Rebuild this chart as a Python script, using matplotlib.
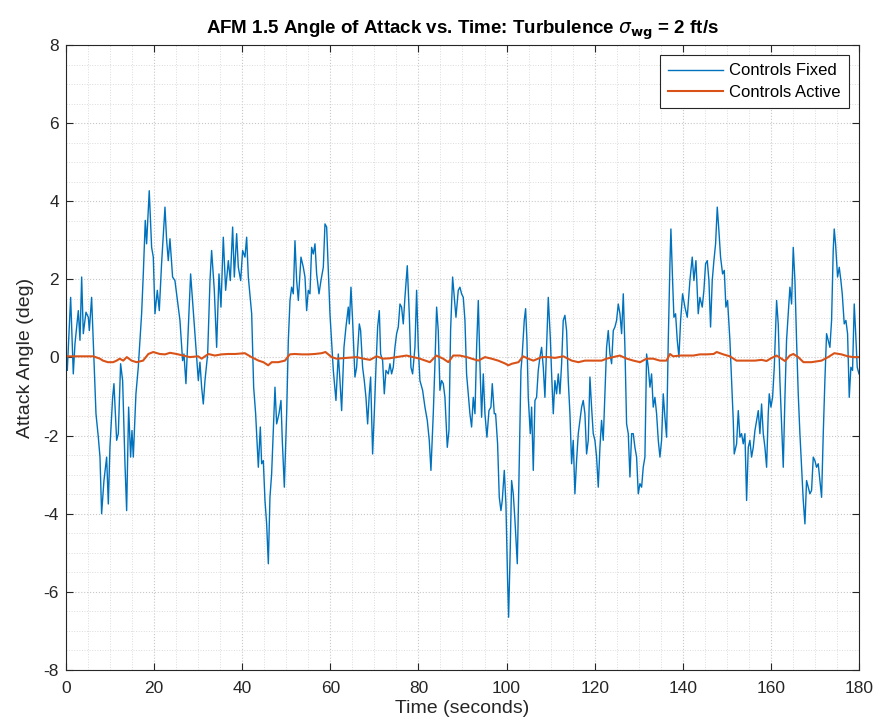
import numpy as np
import matplotlib.pyplot as plt
from matplotlib.ticker import MultipleLocator

# Controls Fixed (blue)
t_fixed = [0.0, 0.15, 0.3, 1.06, 1.66, 2.04, 2.8, 3.18, 3.56, 3.93, 4.54, 5.07, 5.3, 5.82,
           6.81, 7.34, 7.72, 8.09, 8.62, 9.23, 9.61, 9.98, 10.59, 10.89, 11.5, 11.88, 12.4,
           12.86, 13.39, 13.77, 14.22, 14.67, 14.98, 15.28, 15.88, 16.41, 16.79, 17.17, 17.55,
           18.0, 18.3, 18.9, 19.44, 19.82, 20.2, 20.73, 21.18, 21.7, 22.47, 22.85, 23.22, 23.6,
           24.2, 24.73, 25.87, 26.47, 26.78, 27.23, 28.29,
           30.04, 30.41, 30.79, 31.17, 31.55, 32.16, 32.69, 33.06, 33.67, 34.2, 34.73, 35.18,
           35.71, 36.24, 36.85, 37.3, 37.83, 38.21, 38.74, 39.12, 39.65, 40.1, 40.63, 41.01,
           41.39, 42.15, 42.6, 43.05, 43.66, 44.11, 44.41, 44.79, 45.17, 45.55, 45.93, 46.3,
           46.68, 47.44, 47.82, 48.35, 48.8, 49.1, 49.56, 50.09, 50.47, 50.85, 51.22, 51.6,
           51.98, 52.36, 52.74, 53.34, 53.87, 54.25, 54.63, 55.0, 55.38, 55.76, 56.14, 56.52,
           56.9, 57.43, 57.88, 58.41, 58.79, 59.17, 59.92,
           60.68, 61.28, 61.81, 62.19, 62.57, 63.1, 63.55, 64.08, 64.31, 64.69, 65.06, 65.59,
           65.97, 66.58, 66.88, 67.33, 67.71, 68.09, 68.47, 68.85, 69.15, 69.6, 69.98, 70.36,
           70.74, 71.12, 71.42, 71.87, 72.25, 72.63, 73.16, 73.54, 73.91, 74.29, 74.67, 75.05,
           75.43, 75.81, 76.18, 76.56, 76.94, 77.47, 77.92, 78.3, 78.68, 79.21, 79.59, 79.97,
           80.34, 80.95, 81.48, 82.01, 82.46, 82.84, 83.37, 83.75, 84.13, 84.5, 84.88, 85.26,
           85.64, 86.02, 86.55, 86.93, 87.3, 87.76, 88.14, 88.52, 89.04, 89.42, 89.8, 90.18,
           90.56, 90.93,
           91.69, 92.07, 92.45, 92.83, 93.21, 93.59, 93.96, 94.34, 94.72, 95.1, 95.55, 96.01,
           96.46, 96.76, 97.22, 97.52, 97.97, 98.35, 98.73, 99.03, 99.49, 99.86, 100.24, 100.47,
           100.85, 101.15, 101.53, 101.91, 102.44, 102.81, 103.27, 103.57, 104.02, 104.33,
           104.63, 104.93, 105.39, 105.69, 106.07, 106.45, 106.82, 107.2, 107.58, 107.96,
           108.34, 108.71, 109.09, 109.47, 109.93, 110.23, 110.61, 110.98, 111.36, 111.74,
           112.12, 112.5, 112.87, 113.25, 113.63, 114.01, 114.39, 114.77, 115.14, 115.52,
           115.9, 116.28, 116.66, 117.04, 117.41, 117.79, 118.17, 118.55, 118.93, 119.3,
           119.68, 120.06, 120.44, 120.82, 121.2, 121.57, 121.95,
           122.71, 123.09, 123.47, 123.85, 124.23, 124.6, 124.98, 125.36, 125.74, 126.12,
           126.5, 126.87, 127.25, 127.63, 128.01, 128.39, 128.76, 129.14, 129.52, 129.9,
           130.28, 130.66, 131.03, 131.41, 131.79, 132.17, 132.55, 132.92, 133.3, 133.68,
           134.06, 134.44, 134.82, 135.19, 135.57, 135.95, 136.33, 136.71, 137.09, 137.31,
           137.69, 137.99, 138.37, 138.75, 139.13, 139.51, 139.96, 140.49, 141.02, 141.62,
           142.15, 142.53, 142.99, 143.51, 143.89, 144.42, 144.8, 145.18, 145.56, 145.94,
           146.31, 146.69, 147.07, 147.45, 147.83, 148.2, 148.58, 149.04, 149.42, 149.79,
           150.17, 150.7, 151.08, 151.46, 151.68,
           152.22, 152.6, 152.97, 153.35, 153.73, 154.11, 154.49, 154.87, 155.24, 155.62,
           156.0, 156.38, 156.76, 157.14, 157.51, 157.89, 158.27, 158.65, 159.03, 159.4,
           159.63, 160.01, 160.39, 160.77, 161.07, 161.3, 161.67, 162.05, 162.43, 162.81,
           163.19, 163.56, 163.94, 164.32, 164.7, 165.08, 165.46, 165.83, 166.21, 166.59,
           166.97, 167.35, 167.73, 168.1, 168.48, 168.86, 169.24, 169.62, 169.99, 170.37,
           170.75, 171.13, 171.51, 171.89, 172.26, 172.64, 173.02, 173.4, 173.78, 174.15,
           174.38, 174.68, 175.14, 175.52, 175.89, 176.2, 176.65, 177.03, 177.41, 177.79,
           178.16, 178.54, 178.92, 179.22, 179.6, 180.0]
alpha_fixed = [0.0, 0.01, -0.33, 1.54, -0.42, 0.35, 1.2, 0.44, 2.06, 0.61, 1.16, 1.03, 0.69, 1.54,
               -1.44, -2.04, -2.55, -4.0, -3.15, -2.55, -3.75, -2.3, -1.02, -0.67, -2.12, -1.95,
               -0.16, -0.59, -2.72, -3.92, -1.27, -2.55, -1.87, -2.55, -0.93, -0.25, 0.44, 1.12,
               2.14, 3.51, 2.91, 4.27, 2.82, 2.57, 1.12, 1.72, 1.2, 2.4, 3.85, 3.0, 2.48, 3.04,
               2.06, 1.97, 0.95, -0.08, 0.09, -0.67, 2.14,
               -0.59, -0.12, -0.76, -1.19, -0.59, 0.09, 1.97, 2.74, 1.72, 0.26, 2.14, 1.29,
               3.08, 1.72, 2.48, 1.97, 3.34, 2.06, 3.17, 2.31, 1.97, 2.74, 2.57, 3.08,
               2.06, 1.12, -0.76, -1.44, -2.81, -1.78, -2.72, -2.64, -3.66, -4.26, -5.28, -3.58,
               -2.98, -0.76, -1.7, -1.44, -1.1, -2.12, -3.32, -1.44, 0.44, 1.46, 1.8, 1.63,
               2.99, 1.97, 1.46, 2.57, 2.31, 2.06, 1.2, 1.72, 1.63, 2.82, 2.65, 2.91,
               2.14, 1.63, 1.97, 2.31, 3.42, 3.34, 1.12,
               -0.33, -1.1, 0.09, -0.59, -1.36, 0.26, 0.78, 1.29, 0.86, 1.8, 0.95, -0.5,
               -0.25, 0.86, 0.69, -0.25, -0.59, -1.02, -1.7, -0.93, -0.5, -2.47, -1.44, -0.25,
               0.78, 1.2, 0.09, -0.08, -0.93, -0.33, -0.42, -0.16, -0.42, -0.25, 0.26, 0.61,
               0.78, 1.37, 1.29, 0.86, 1.54, 2.35, 1.12, -0.25, -0.42, 0.26, 1.72, 0.26,
               -0.59, -0.84, -1.27, -1.61, -2.12, -2.89, -1.44, -0.16, 1.29, 0.69, -0.84, -0.59,
               -0.67, -1.02, -2.3, -1.87, 0.69, 2.06, 1.54, 1.03, 1.72, 1.8, 1.63, 1.54,
               0.95, -0.42,
               -1.44, -1.78, -1.02, -1.44, 0.26, 1.46, -0.16, -1.53, -0.42, -1.44, -2.04, -1.36,
               -1.27, -0.67, -1.44, -1.44, -2.21, -3.58, -3.92, -3.66, -2.89, -3.75, -5.71, -6.65,
               -4.85, -3.15, -3.49, -4.17, -5.28, -3.15, -0.33, 0.09, 0.95, 1.25,
               0.44, -1.02, -1.95, -1.27, -2.89, -1.1, -1.02, -0.33, 0.01, 0.26, -0.25, -1.02,
               0.26, 1.54, 0.52, -0.42, -1.44, -0.59, -0.93, -0.42, -0.93, -0.16, 0.95, 1.08,
               0.69, -0.59, -1.44, -2.72, -2.12, -3.49, -2.64, -1.95, -1.61, -1.27, -1.1, -1.44,
               -2.47, -2.12, -0.5, -1.27, -1.95, -2.12, -2.55, -3.32, -2.3, -1.61, -2.12,
               0.26, 0.69, 0.09, -0.16, 0.69, 0.78, 0.95, 1.37, 1.12, 0.61, 1.63, 0.26,
               -1.7, -1.95, -3.06, -1.95, -1.95, -2.3, -2.55, -3.49, -3.23, -3.32, -2.81, -2.55,
               0.09, -0.25, -0.76, -0.42, -1.27, -1.02, -1.44, -2.12, -2.55, -2.12, -0.93, -1.53,
               -2.04, 0.44, 2.4, 3.29, 1.97, 1.03, 1.12, 0.44, 0.01, 0.95, 1.63, 1.29, 1.03,
               1.97, 2.57, 1.97, 2.48, 1.12, 1.54, 1.29, 1.72, 2.4, 2.48, 1.97, 0.78, 1.97,
               2.48, 2.91, 3.85, 3.25, 2.57, 2.14, 2.23, 1.29, 1.46, 0.44, -0.59, -1.61, -2.47,
               -2.21, -1.36, -2.04, -1.95, -2.21, -1.95, -3.66, -2.3, -2.12, -2.55, -2.3, -1.87,
               -1.61, -1.36, -1.95, -1.19, -1.95, -2.3, -2.81, -1.44, -0.93, -1.27, -1.02, -0.25,
               0.69, 1.46, 0.86, -0.59, -1.7, -2.81, -1.02, 0.44, 1.12, 1.8, 1.37, 2.82,
               1.97, 0.44, -0.93, -1.95, -2.81, -3.66, -4.26, -3.15, -3.32, -3.49, -3.4, -2.55,
               -2.64, -2.81, -2.72, -3.15, -3.58, -1.95, -0.59, 0.61, 0.44, 0.26, 0.95, 2.74,
               3.29, 2.91, 2.06, 2.31, 1.97, 1.63, 0.86, 0.95, 0.61, -1.02, -0.25, -0.33, 1.37,
               0.69, -0.25, -0.42]

# Controls Active (orange), (time, angle) pairs
active_points = [
    (0.0, 0.03), (4.0, 0.03), (6.2, 0.03), (7.7, -0.03), (8.4, -0.08), (9.5, -0.12),
    (10.7, -0.12), (11.5, -0.08), (12.2, -0.03), (13.0, -0.08), (13.8, 0.01), (14.9, -0.08),
    (16.0, -0.12), (17.5, -0.08), (18.7, 0.09), (19.8, 0.14), (21.3, 0.09), (22.5, 0.08),
    (23.6, 0.12), (25.1, 0.09), (26.6, 0.05), (28.1, 0.01), (30.0, 0.03), (30.8, -0.03),
    (32.3, 0.09), (33.8, 0.05), (35.3, 0.08), (36.8, 0.09), (38.4, 0.09), (40.6, 0.11),
    (42.1, 0.01), (43.7, -0.08), (44.8, -0.12), (45.9, -0.2), (46.7, -0.12), (48.2, -0.12),
    (49.7, -0.08), (50.8, 0.08), (51.9, 0.09), (53.5, 0.08), (55.0, 0.08), (56.5, 0.09),
    (58.0, 0.11), (58.9, 0.14), (60.3, 0.01), (61.4, -0.03), (63.7, -0.01), (66.0, 0.01),
    (67.5, -0.03), (69.0, -0.06), (70.5, 0.03), (72.0, -0.03), (73.5, -0.02), (75.0, 0.01),
    (77.3, 0.05), (78.8, 0.01), (80.3, -0.03), (82.6, -0.12), (84.1, 0.05), (85.6, -0.03),
    (86.8, -0.12), (87.9, 0.05), (89.4, 0.05), (91.0, 0.01), (92.1, -0.03), (93.6, -0.08),
    (95.1, 0.01), (96.6, -0.03), (98.1, -0.08), (99.6, -0.15), (100.4, -0.2), (101.2, -0.16),
    (102.7, -0.12), (103.8, 0.03), (104.9, -0.03), (106.1, -0.08), (108.0, 0.01), (109.5, 0.01),
    (111.0, -0.01), (112.9, 0.03), (114.8, -0.08), (116.3, -0.12), (117.8, -0.08), (119.3, -0.08),
    (121.6, -0.08), (122.7, -0.03), (124.2, 0.01), (125.7, 0.05), (127.3, -0.03), (128.8, -0.08),
    (130.3, -0.12), (131.8, -0.03), (133.3, -0.03), (134.8, -0.08), (136.3, -0.08), (137.1, 0.09),
    (137.8, 0.03), (139.4, 0.05), (140.9, 0.05), (142.4, 0.05), (143.9, 0.08), (145.4, 0.08),
    (147.0, 0.09), (147.7, 0.14), (149.2, 0.08), (150.7, 0.03), (152.2, -0.08), (153.4, -0.08),
    (154.9, -0.08), (156.4, -0.08), (157.9, -0.06), (159.0, -0.09), (160.2, -0.01), (161.3, 0.05),
    (162.4, -0.03), (163.2, -0.09), (164.3, 0.05), (165.1, 0.09), (166.2, 0.01), (167.4, -0.12),
    (169.2, -0.12), (171.5, -0.08), (173.0, 0.01), (174.4, 0.11), (176.0, 0.08), (177.5, 0.03),
    (178.7, 0.01), (180.0, 0.01),
]
t_active = [p[0] for p in active_points]
alpha_active = [p[1] for p in active_points]

plt.rcParams['font.family'] = ['Liberation Sans', 'DejaVu Sans']
plt.rcParams['mathtext.fontset'] = 'dejavusans'
plt.rcParams['axes.unicode_minus'] = False

fig = plt.figure(figsize=(8.75, 7.25), dpi=100)
ax = fig.add_axes([0.0754, 0.0759, 0.9063, 0.862])

ax.plot(t_fixed, alpha_fixed, color='#0072BD', lw=1.0, label='Controls Fixed')
ax.plot(t_active, alpha_active, color='#D95319', lw=1.5, label='Controls Active')

ax.set_xlim(0, 180)
ax.set_ylim(-8, 8)
ax.xaxis.set_major_locator(MultipleLocator(20))
ax.xaxis.set_minor_locator(MultipleLocator(5))
ax.yaxis.set_major_locator(MultipleLocator(2))
ax.yaxis.set_minor_locator(MultipleLocator(0.5))
ax.grid(True, which='major', ls=':', color='#c8c8c8', lw=0.8)
ax.grid(True, which='minor', ls=':', color='#dcdcdc', lw=0.7)
ax.tick_params(which='both', direction='in', top=True, right=True, colors='#262626',
               labelsize=12.5)
ax.tick_params(which='minor', length=0)
ax.tick_params(which='major', length=5, pad=5)
ax.tick_params(axis='x', which='major', pad=8)
for sp in ax.spines.values():
    sp.set_color('#262626')
    sp.set_linewidth(0.8)

ax.set_xlabel('Time (seconds)', fontsize=14, color='#262626', labelpad=3)
ax.set_ylabel('Attack Angle (deg)', fontsize=14, color='#262626', labelpad=7)
ax.set_title(r'AFM 1.5 Angle of Attack vs. Time: Turbulence $\sigma_{\mathbf{wg}}$ = 2 ft/s',
             fontsize=13.5, fontweight='bold', pad=8)

leg = ax.legend(loc='upper right', fontsize=12, fancybox=False, framealpha=1,
                edgecolor='#262626', handlelength=3.3, handletextpad=0.35,
                borderaxespad=0.6, borderpad=0.5, labelspacing=0.4)
leg.get_frame().set_linewidth(0.8)

fig.savefig('out.png', dpi=100)
